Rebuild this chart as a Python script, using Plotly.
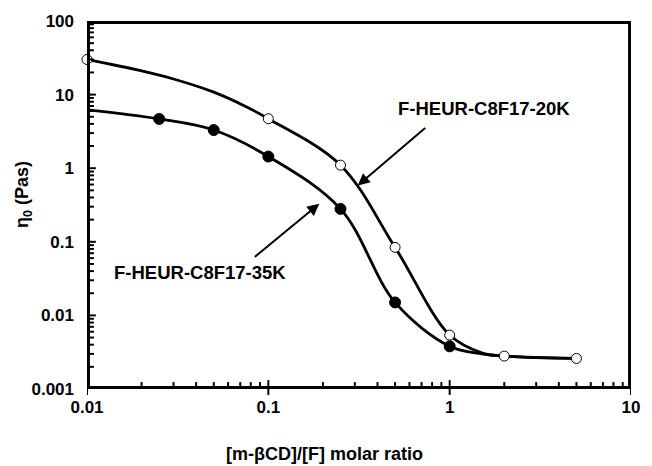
import math
import plotly.graph_objects as go

# ---- data ----
ratio_20k = [0.01, 0.1, 0.25, 0.5, 1, 2, 5]
eta_20k = [30, 4.7, 1.1, 0.084, 0.0054, 0.0028, 0.0026]

ratio_35k = [0.025, 0.05, 0.1, 0.25, 0.5, 1]
eta_35k = [4.67, 3.3, 1.44, 0.28, 0.015, 0.0038]

# fitted curves
fit_x_20k = [0.01, 0.02, 0.03, 0.05, 0.075, 0.1, 0.25, 0.5, 1, 1.5, 2, 5]
fit_y_20k = [30, 21, 16.3, 10.8, 6.9, 4.7, 1.1, 0.084, 0.0054, 0.0031, 0.0028, 0.0026]

fit_x_35k = [0.01, 0.025, 0.05, 0.1, 0.25, 0.5, 1, 1.5, 2, 5]
fit_y_35k = [6.2, 4.67, 3.3, 1.44, 0.28, 0.015, 0.0038, 0.0030, 0.0028, 0.0026]

x_ticks = [0.01, 0.1, 1, 10]
x_tick_text = ["0.01", "0.1", "1", "10"]
y_ticks = [0.001, 0.01, 0.1, 1, 10, 100]
y_tick_text = ["0.001", "0.01", "0.1", "1", "10", "100"]

FONT = "Liberation Sans"
W, H = 652, 466
ML, MR, MT, MB = 87, 13, 17, 77
PW, PH = W - ML - MR, H - MT - MB

X_MIN, X_MAX = x_ticks[0], x_ticks[-1]
Y_MIN, Y_MAX = y_ticks[0], y_ticks[-1]
X_DEC = math.log10(X_MAX / X_MIN)
Y_DEC = math.log10(Y_MAX / Y_MIN)
PX_X = X_DEC / PW   # decades per pixel on x
PX_Y = Y_DEC / PH   # decades per pixel on y

fig = go.Figure()

BLACK = "#000000"


def bar(xref, yref, x0, x1, y0, y1):
    fig.add_shape(type="rect", xref=xref, yref=yref, x0=x0, x1=x1, y0=y0, y1=y1,
                  fillcolor=BLACK, line=dict(width=0), layer="above")


# plot frame as filled strips (3 px thick, just inside the plot area)
bar("x domain", "y domain", 0, 1, 0, 3 / PH)
bar("x domain", "y domain", 0, 1, 1 - 3 / PH, 1)
bar("x domain", "y domain", 0, 3 / PW, 0, 1)
bar("x domain", "y domain", 1 - 3 / PW, 1, 0, 1)

# tick marks as filled strips (2 px wide); data values on the log axes
for e in range(round(math.log10(X_MIN)), round(math.log10(X_MAX)) + 1):
    for k in range(1, 10):
        v = k * 10 ** e
        if v > X_MAX * 1.0001:
            break
        x0, x1 = v * 10 ** (-PX_X), v * 10 ** PX_X
        if k == 1:
            bar("x", "y domain", x0, x1, -6 / PH, 9 / PH)
        else:
            bar("x", "y domain", x0, x1, 0, 7 / PH)
for e in range(round(math.log10(Y_MIN)), round(math.log10(Y_MAX))):
    for k in range(1, 10):
        v = k * 10 ** e
        bar("x domain", "y", 0, (9 if k == 1 else 7) / PW,
            v * 10 ** (-PX_Y), v * 10 ** PX_Y)

fig.add_trace(go.Scatter(x=fit_x_20k, y=fit_y_20k, mode="lines",
                         line=dict(color="black", width=2.8, shape="spline", smoothing=1.0),
                         hoverinfo="skip", showlegend=False, cliponaxis=False))
fig.add_trace(go.Scatter(x=fit_x_35k, y=fit_y_35k, mode="lines",
                         line=dict(color="black", width=2.8, shape="spline", smoothing=1.0),
                         hoverinfo="skip", showlegend=False, cliponaxis=False))
fig.add_trace(go.Scatter(x=ratio_20k, y=eta_20k, mode="markers", name="F-HEUR-C8F17-20K",
                         marker=dict(symbol="circle", size=10, color="white",
                                     line=dict(color="black", width=1)),
                         showlegend=False, cliponaxis=False))
fig.add_trace(go.Scatter(x=ratio_35k, y=eta_35k, mode="markers", name="F-HEUR-C8F17-35K",
                         marker=dict(symbol="circle", size=11, color="black",
                                     line=dict(color="black", width=1)),
                         showlegend=False, cliponaxis=False))

tick_font = dict(family=FONT, size=17, color="black", weight="bold")

fig.update_xaxes(type="log", range=[math.log10(X_MIN), math.log10(X_MAX)],
                 tickmode="array", tickvals=x_ticks, ticktext=x_tick_text, ticks="",
                 ticklabelstandoff=6, showline=False, showgrid=False, zeroline=False,
                 tickfont=tick_font)
fig.update_yaxes(type="log", range=[math.log10(Y_MIN), math.log10(Y_MAX)],
                 tickmode="array", tickvals=y_ticks, ticktext=y_tick_text, ticks="",
                 ticklabelstandoff=12, showline=False, showgrid=False, zeroline=False,
                 tickfont=tick_font)

title_font = dict(family=FONT, size=18, color="black", weight="bold")
fig.add_annotation(x=(328 - ML) / PW, y=(H - MB - 455) / PH, xref="paper", yref="paper",
                   xanchor="center", yanchor="middle",
                   text="[m-βCD]/[F] molar ratio", showarrow=False, font=title_font)
fig.add_annotation(x=(22 - ML) / PW, y=(H - MB - 192) / PH, xref="paper", yref="paper",
                   xanchor="center", yanchor="middle",
                   text="η<sub>0</sub> (Pas)", textangle=-90, showarrow=False,
                   font=title_font)

ann_font = dict(family=FONT, size=18.5, color="black", weight="bold")
fig.add_annotation(x=0.19, y=0.817, xref="x", yref="y", text="F-HEUR-C8F17-20K",
                   showarrow=False, font=ann_font)
fig.add_annotation(x=-1.375, y=-1.423, xref="x", yref="y", text="F-HEUR-C8F17-35K",
                   showarrow=False, font=ann_font)
fig.add_annotation(x=-0.507, y=-0.235, xref="x", yref="y", ax=-0.127, ay=0.565,
                   axref="x", ayref="y", text="", showarrow=True, arrowhead=2,
                   arrowsize=1.2, arrowwidth=2, arrowcolor="black", standoff=0)
fig.add_annotation(x=-0.719, y=-0.483, xref="x", yref="y", ax=-1.083, ay=-1.222,
                   axref="x", ayref="y", text="", showarrow=True, arrowhead=2,
                   arrowsize=1.2, arrowwidth=2, arrowcolor="black", standoff=0)

fig.update_layout(width=W, height=H, margin=dict(l=ML, r=MR, t=MT, b=MB),
                  plot_bgcolor="white", paper_bgcolor="white", showlegend=False)

fig.write_html("out.html")
